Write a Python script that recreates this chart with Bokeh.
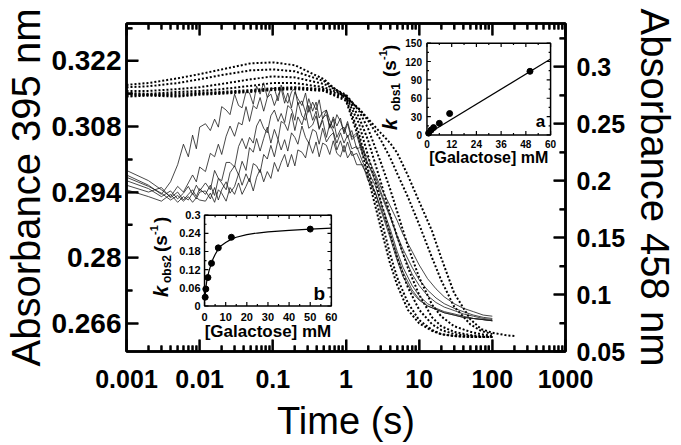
from math import pi
from bokeh.plotting import figure
from bokeh.models import (Range1d, LinearAxis, LogAxis, FixedTicker, LinearScale, Arrow,
                          ColumnDataSource)
from bokeh.core.properties import value
from bokeh.embed import file_html
from bokeh.resources import INLINE

# ---------------- data ----------------
TIME_TICKS = [0.001, 0.01, 0.1, 1.0, 10.0, 100.0, 1000.0]
TIME_LABELS = ["0.001", "0.01", "0.1", "1", "10", "100", "1000"]
LEFT_TICKS = [0.266, 0.28, 0.294, 0.308, 0.322]
LEFT_LABELS = ["0.266", "0.28", "0.294", "0.308", "0.322"]
RIGHT_TICKS = [0.05, 0.1, 0.15, 0.2, 0.25, 0.3]
RIGHT_LABELS = ["0.05", "0.1", "0.15", "0.2", "0.25", "0.3"]

# 395 nm traces (dotted, left axis)
t_dot = [0.001, 0.002, 0.005, 0.01, 0.02, 0.05, 0.1, 0.2, 0.5, 1, 1.5, 2, 3, 4, 5, 7,
         10, 15, 20, 30, 50, 70, 100, 150, 200]
a395_1 = [0.3169, 0.3173, 0.3183, 0.3192, 0.3202, 0.3215, 0.3217, 0.3211, 0.3181, 0.3139,
          0.3118, 0.3097, 0.3066, 0.3045, 0.3024, 0.2976, 0.2920, 0.2857, 0.2800, 0.2725,
          0.2669, 0.2648, 0.2640, 0.2635, 0.2633]
a395_2 = [0.3164, 0.3166, 0.3173, 0.3181, 0.3190, 0.3200, 0.3202, 0.3198, 0.3177, 0.3144,
          0.3118, 0.3093, 0.3051, 0.3014, 0.2980, 0.2930, 0.2871, 0.2800, 0.2752, 0.2696,
          0.2658, 0.2644, 0.2637]
a395_3 = [0.3156, 0.3156, 0.3160, 0.3164, 0.3171, 0.3181, 0.3187, 0.3185, 0.3171, 0.3148,
          0.3114, 0.3076, 0.3003, 0.2947, 0.2899, 0.2825, 0.2758, 0.2700, 0.2675, 0.2654,
          0.2642, 0.2637, 0.2633]
a395_4 = [0.3152, 0.3150, 0.3154, 0.3156, 0.3160, 0.3167, 0.3173, 0.3173, 0.3164, 0.3146,
          0.3101, 0.3051, 0.2961, 0.2892, 0.2846, 0.2779, 0.2721, 0.2673, 0.2654, 0.2642,
          0.2635, 0.2633, 0.2631]
a395_5 = [0.3150, 0.3148, 0.3150, 0.3152, 0.3154, 0.3158, 0.3162, 0.3164, 0.3160, 0.3144,
          0.3087, 0.3018, 0.2920, 0.2851, 0.2800, 0.2737, 0.2689, 0.2658, 0.2646, 0.2637,
          0.2633, 0.2631, 0.2631]
a395_6 = [0.3146, 0.3148, 0.3146, 0.3150, 0.3152, 0.3156, 0.3160, 0.3162, 0.3158, 0.3139,
          0.3066, 0.2989, 0.2884, 0.2808, 0.2758, 0.2704, 0.2667, 0.2646, 0.2637, 0.2633,
          0.2631, 0.2631, 0.2631]
a395_7 = [0.3144, 0.3146, 0.3144, 0.3148, 0.3150, 0.3154, 0.3158, 0.3160, 0.3156, 0.3135,
          0.3055, 0.2972, 0.2863, 0.2788, 0.2742, 0.2689, 0.2660, 0.2644, 0.2637, 0.2633,
          0.2631, 0.2631, 0.2631]

# 458 nm traces (solid, right axis)
t_sol = [0.001, 0.002, 0.003, 0.004, 0.005, 0.006, 0.007, 0.008, 0.009, 0.010,
         0.012, 0.014, 0.016, 0.018, 0.020, 0.023, 0.026, 0.030, 0.034, 0.038, 0.043, 0.048,
         0.054, 0.060, 0.067, 0.075, 0.084, 0.094,
         0.105, 0.118, 0.130, 0.145, 0.160, 0.180, 0.200, 0.220, 0.250, 0.280, 0.310, 0.350,
         0.390, 0.430, 0.480, 0.540, 0.600, 0.670, 0.750, 0.840, 0.940,
         1.05, 1.2, 1.4, 1.7, 2.0, 2.5, 3.0, 4.0, 5.0, 6.0, 8.0, 10, 13, 17, 22, 30, 40, 55, 75, 100]
a458_1 = [0.205, 0.196, 0.188, 0.199, 0.214, 0.232, 0.221, 0.240, 0.228, 0.247,
          0.250, 0.244, 0.254, 0.247, 0.265, 0.262, 0.258, 0.276, 0.266, 0.264, 0.278, 0.277,
          0.267, 0.283, 0.276, 0.286, 0.273, 0.281,
          0.281, 0.270, 0.284, 0.273, 0.268, 0.278, 0.281, 0.267, 0.270, 0.260, 0.272, 0.261,
          0.269, 0.255, 0.260, 0.262, 0.246, 0.256, 0.248, 0.255, 0.241,
          0.250, 0.236, 0.240, 0.222, 0.215, 0.200, 0.188, 0.168, 0.152, 0.140, 0.124, 0.113,
          0.104, 0.097, 0.092, 0.088, 0.085, 0.082, 0.080, 0.079]
a458_2 = [0.209, 0.200, 0.192, 0.186, 0.195, 0.190, 0.198, 0.205, 0.199, 0.212,
          0.208, 0.224, 0.221, 0.232, 0.223, 0.239, 0.248, 0.239, 0.251, 0.249, 0.265, 0.252,
          0.266, 0.263, 0.273, 0.261, 0.273, 0.276,
          0.266, 0.275, 0.281, 0.268, 0.277, 0.264, 0.278, 0.272, 0.266, 0.277, 0.260, 0.269,
          0.262, 0.271, 0.254, 0.262, 0.253, 0.246, 0.258, 0.252, 0.243,
          0.252, 0.238, 0.242, 0.226, 0.220, 0.206, 0.194, 0.178, 0.165, 0.153, 0.138, 0.126,
          0.114, 0.105, 0.098, 0.092, 0.088, 0.085, 0.082, 0.081]
a458_3 = [0.200, 0.193, 0.186, 0.191, 0.184, 0.189, 0.195, 0.188, 0.196, 0.191,
          0.198, 0.192, 0.209, 0.202, 0.200, 0.216, 0.216, 0.212, 0.230, 0.237, 0.228, 0.238,
          0.233, 0.248, 0.254, 0.246, 0.242, 0.257,
          0.262, 0.252, 0.259, 0.251, 0.266, 0.263, 0.253, 0.269, 0.257, 0.253, 0.266, 0.253,
          0.261, 0.246, 0.255, 0.258, 0.247, 0.254, 0.238, 0.245, 0.247,
          0.238, 0.244, 0.228, 0.230, 0.214, 0.204, 0.190, 0.170, 0.150, 0.136, 0.118, 0.108,
          0.099, 0.093, 0.089, 0.086, 0.083, 0.081, 0.079, 0.078]
a458_4 = [0.196, 0.190, 0.194, 0.185, 0.190, 0.183, 0.188, 0.192, 0.186, 0.193,
          0.188, 0.196, 0.187, 0.202, 0.198, 0.192, 0.207, 0.213, 0.205, 0.217, 0.209, 0.229,
          0.225, 0.237, 0.226, 0.237, 0.247, 0.233,
          0.245, 0.236, 0.252, 0.250, 0.244, 0.259, 0.244, 0.256, 0.249, 0.260, 0.246, 0.249,
          0.257, 0.245, 0.253, 0.238, 0.250, 0.243, 0.233, 0.242, 0.233,
          0.240, 0.228, 0.230, 0.216, 0.208, 0.196, 0.180, 0.158, 0.138, 0.124, 0.108, 0.099,
          0.092, 0.088, 0.085, 0.083, 0.081, 0.079, 0.078, 0.077]
a458_5 = [0.192, 0.186, 0.182, 0.188, 0.181, 0.186, 0.183, 0.189, 0.184, 0.190,
          0.191, 0.184, 0.194, 0.183, 0.192, 0.199, 0.189, 0.195, 0.206, 0.196, 0.206, 0.199,
          0.215, 0.213, 0.207, 0.223, 0.219, 0.231,
          0.221, 0.236, 0.227, 0.236, 0.226, 0.242, 0.238, 0.232, 0.248, 0.238, 0.233, 0.245,
          0.243, 0.232, 0.246, 0.234, 0.239, 0.242, 0.227, 0.235, 0.225,
          0.234, 0.222, 0.224, 0.212, 0.204, 0.190, 0.174, 0.150, 0.130, 0.116, 0.102, 0.095,
          0.090, 0.087, 0.084, 0.082, 0.080, 0.079, 0.078, 0.077]
a458_6 = [0.203, 0.195, 0.189, 0.183, 0.187, 0.182, 0.186, 0.181, 0.185, 0.183,
          0.182, 0.189, 0.181, 0.192, 0.189, 0.182, 0.194, 0.188, 0.198, 0.188, 0.195, 0.202,
          0.191, 0.203, 0.210, 0.199, 0.208, 0.202,
          0.216, 0.208, 0.216, 0.223, 0.212, 0.223, 0.213, 0.227, 0.225, 0.220, 0.234, 0.224,
          0.234, 0.221, 0.233, 0.231, 0.223, 0.235, 0.224, 0.221, 0.231,
          0.220, 0.226, 0.214, 0.214, 0.200, 0.190, 0.176, 0.154, 0.134, 0.120, 0.104, 0.096,
          0.090, 0.087, 0.084, 0.082, 0.080, 0.079, 0.078, 0.077]

# inset a: k_obs1 vs [Galactose]
gal_a = [0.8, 2.0, 3.2, 6.0, 11.0, 50.0]
kobs1 = [3, 8, 12, 19, 35, 104]
fit_a_x = [0, 60]
fit_a_y = [1, 124]
A_XTICKS = [0, 12, 24, 36, 48, 60]
A_XLABELS = ["0", "12", "24", "36", "48", "60"]
A_XMINOR = [6, 18, 30, 42, 54]
A_YTICKS = [0, 30, 60, 90, 120, 150]
A_YLABELS = ["0", "30", "60", "90", "120", "150"]
A_YMINOR = [15, 45, 75, 105, 135]

# inset b: k_obs2 vs [Galactose]
gal_b = [0.3, 0.6, 1.6, 3.3, 6.5, 12.7, 50.0]
kobs2 = [0.029, 0.056, 0.094, 0.141, 0.192, 0.227, 0.254]
fit_b_x = [0.2, 0.5, 1, 1.5, 2, 3, 4, 5, 6.5, 8, 10, 12.5, 15, 20, 25, 30, 40, 50, 60]
fit_b_y = [0.02, 0.052, 0.08, 0.098, 0.113, 0.136, 0.155, 0.170, 0.188, 0.200, 0.210,
           0.220, 0.227, 0.236, 0.241, 0.245, 0.250, 0.254, 0.257]
B_XTICKS = [0, 10, 20, 30, 40, 50, 60]
B_XLABELS = ["0", "10", "20", "30", "40", "50", "60"]
B_XMINOR = [5, 15, 25, 35, 45, 55]
B_YTICKS = [0, 0.06, 0.12, 0.18, 0.24, 0.3]
B_YLABELS = ["0", "0.06", "0.12", "0.18", "0.24", "0.3"]
B_YMINOR = [0.03, 0.09, 0.15, 0.21, 0.27]

# ---------------- layout ----------------
FONT = "Liberation Sans"
W, H = 680, 444
# reference geometry of main frame and inset boxes (page px)
FR = dict(l=126.0, r=576.0, t=23.3, b=357.0)
INSET_A = dict(l=434.0, r=560.7, t=43.3, b=136.7)
INSET_B = dict(l=206.0, r=336.0, t=218.3, b=310.7)
FW, FH = FR["r"] - FR["l"], FR["b"] - FR["t"]


def inset_range(d0, d1, p0, p1, lo, hi, flip=False):
    if flip:
        f0 = (hi - p0) / (hi - lo)
        f1 = (hi - p1) / (hi - lo)
    else:
        f0 = (p0 - lo) / (hi - lo)
        f1 = (p1 - lo) / (hi - lo)
    span = (d1 - d0) / (f1 - f0)
    start = d0 - f0 * span
    return Range1d(start=start, end=start + span)


p = figure(width=W, height=H, x_axis_type="log",
           x_range=Range1d(0.001, 1000), y_range=Range1d(0.26, 0.33),
           output_backend="svg", toolbar_location=None,
           min_border_left=int(FR["l"]), min_border_right=int(W - FR["r"]),
           min_border_top=int(round(FR["t"])), min_border_bottom=int(H - FR["b"]),
           x_axis_label="Time (s)", y_axis_label="Absorbance 395 nm",
           background_fill_color="white", border_fill_color="white")
p.outline_line_color = "black"
p.outline_line_width = 2.5
p.xgrid.visible = False
p.ygrid.visible = False

p.extra_y_ranges = {
    "r": Range1d(0.05, 0.338),
    "ay": inset_range(0, 150, INSET_A["b"], INSET_A["t"], FR["t"], FR["b"], flip=True),
    "by": inset_range(0, 0.3, INSET_B["b"], INSET_B["t"], FR["t"], FR["b"], flip=True),
}
p.extra_x_ranges = {
    "ax": inset_range(0, 60, INSET_A["l"], INSET_A["r"], FR["l"], FR["r"]),
    "bx": inset_range(0, 60, INSET_B["l"], INSET_B["r"], FR["l"], FR["r"]),
}
p.extra_x_scales = {"ax": LinearScale(), "bx": LinearScale()}
p.extra_y_scales = {"r": LinearScale(), "ay": LinearScale(), "by": LinearScale()}


def style_axis(ax, ticks, minor, labels, size, standoff):
    ax.ticker = FixedTicker(ticks=ticks, minor_ticks=minor)
    if labels is not None:
        ax.major_label_overrides = {t: s for t, s in zip(ticks, labels)}
    ax.major_label_text_font = FONT
    ax.major_label_text_font_style = "bold"
    ax.major_label_text_font_size = size
    ax.major_label_text_color = "black"
    ax.major_label_standoff = standoff
    ax.major_tick_in = 12
    ax.major_tick_out = 0
    ax.minor_tick_in = 6
    ax.minor_tick_out = 0
    ax.major_tick_line_color = "black"
    ax.minor_tick_line_color = "black"
    ax.major_tick_line_width = 2
    ax.minor_tick_line_width = 2
    ax.axis_line_width = 2.5
    ax.axis_label_text_font = FONT
    ax.axis_label_text_font_style = "normal"
    ax.axis_label_text_color = "black"
    ax.axis_label_standoff = 0


x_minor = [m * d for d in TIME_TICKS[:-1] for m in range(2, 10)]
left_minor = [round(t + 0.007, 4) for t in LEFT_TICKS]
right_minor = [round(t + 0.025, 4) for t in RIGHT_TICKS]

style_axis(p.xaxis[0], TIME_TICKS, x_minor, TIME_LABELS, "25px", 18)
p.xaxis[0].axis_label_text_font_size = "38px"
p.xaxis[0].axis_label_standoff = 9
style_axis(p.yaxis[0], LEFT_TICKS, left_minor, LEFT_LABELS, "28px", 5)
p.yaxis[0].axis_label_text_font_size = "40px"

top = LogAxis()
style_axis(top, TIME_TICKS, x_minor, None, "2px", 0)
top.major_label_text_color = None
p.add_layout(top, "above")

right = LinearAxis(y_range_name="r", axis_label="Absorbance 458 nm")
style_axis(right, RIGHT_TICKS, right_minor, RIGHT_LABELS, "25px", 11)
right.axis_label_text_font_size = "40px"
right.axis_label_standoff = 5
p.add_layout(right, "right")

# ---------------- traces ----------------
for ys in [a395_1, a395_2, a395_3, a395_4, a395_5, a395_6, a395_7]:
    p.line(t_dot[:len(ys)], ys, line_color="black", line_width=2, line_dash="2 2")

for ys in [a458_1, a458_2, a458_3, a458_4, a458_5, a458_6]:
    p.line(t_sol, ys, y_range_name="r", line_color="#1a1a1a", line_width=0.8)


def tick_arrows(segs, width, **ranges):
    """Headless Arrow annotations used as short tick strokes."""
    src = ColumnDataSource(dict(x0=[s[0] for s in segs], y0=[s[1] for s in segs],
                                x1=[s[2] for s in segs], y1=[s[3] for s in segs]))
    p.add_layout(Arrow(end=None, x_start="x0", y_start="y0", x_end="x1", y_end="y1",
                       source=src, line_color="black", line_width=width, **ranges))


# inward frame ticks on all four sides
xs0, xs1 = p.x_range.start, p.x_range.end
ys0, ys1 = p.y_range.start, p.y_range.end
decades = 6.0
main_segs, right_segs = [], []
for ln, xt, lt, rt in [(12, TIME_TICKS, LEFT_TICKS, RIGHT_TICKS),
                       (6, x_minor, left_minor, right_minor)]:
    dy = ln / FH * (ys1 - ys0)
    fx = 10 ** (ln / FW * decades)
    main_segs += [(t, ys0, t, ys0 + dy) for t in xt]
    main_segs += [(t, ys1, t, ys1 - dy) for t in xt]
    main_segs += [(xs0, t, xs0 * fx, t) for t in lt]
    right_segs += [(xs1, t, xs1 / fx, t) for t in rt]
tick_arrows(main_segs, 2)
tick_arrows(right_segs, 2, y_range_name="r")


# ---------------- insets ----------------
def draw_inset(xr, yr, box, x0, x1, y0, y1, xt, xl, xm, yt, yl, ym, tick_size,
               xl_off, yl_off, title_size, title_off):
    kw = dict(x_range_name=xr, y_range_name=yr)
    bw, bh = box["r"] - box["l"], box["b"] - box["t"]
    p.quad(left=[x0], right=[x1], bottom=[y0], top=[y1], fill_color="white",
           line_color="black", line_width=1.5, **kw)
    segs = []
    for ticks_x, ticks_y, ln in [(xt, yt, 4), (xm, ym, 2)]:
        dy = ln / bh * (y1 - y0)
        dx = ln / bw * (x1 - x0)
        segs += [(t, y0, t, y0 + dy) for t in ticks_x]
        segs += [(t, y1, t, y1 - dy) for t in ticks_x]
        segs += [(x0, t, x0 + dx, t) for t in ticks_y]
        segs += [(x1, t, x1 - dx, t) for t in ticks_y]
    tick_arrows(segs, 1.2, **kw)
    p.text(x=xt, y=[y0] * len(xt), text=xl, text_font=value(FONT), text_font_style="bold",
           text_font_size=tick_size, text_align="center", text_baseline="middle",
           y_offset=xl_off, text_color="black", **kw)
    p.text(x=[x0] * len(yt), y=yt, text=yl, text_font=value(FONT), text_font_style="bold",
           text_font_size=tick_size, text_align="right", text_baseline="middle",
           x_offset=yl_off, text_color="black", **kw)
    p.text(x=[(x0 + x1) / 2], y=[y0], text=["[Galactose] mM"], text_font=value(FONT),
           text_font_style="bold", text_font_size=title_size, text_align="center",
           text_baseline="middle", y_offset=title_off, text_color="black", **kw)


draw_inset("ax", "ay", INSET_A, 0, 60, 0, 150, A_XTICKS, A_XLABELS, A_XMINOR, A_YTICKS,
           A_YLABELS, A_YMINOR, "10px", 9, -5, "16px", 23)
p.line(fit_a_x, fit_a_y, x_range_name="ax", y_range_name="ay", line_color="black", line_width=1.2)
p.scatter(gal_a, kobs1, x_range_name="ax", y_range_name="ay", size=6, marker="circle",
          fill_color="black", line_color="black")
p.text(x=[60], y=[0], text=["a"], x_range_name="ax", y_range_name="ay", text_font=value(FONT),
       text_font_style="bold", text_font_size="17px", text_align="center",
       text_baseline="middle", x_offset=-10, y_offset=-13)

draw_inset("bx", "by", INSET_B, 0, 60, 0, 0.3, B_XTICKS, B_XLABELS, B_XMINOR, B_YTICKS,
           B_YLABELS, B_YMINOR, "11px", 11, -4, "17px", 26)
p.line(fit_b_x, fit_b_y, x_range_name="bx", y_range_name="by", line_color="black", line_width=1.2)
p.scatter(gal_b, kobs2, x_range_name="bx", y_range_name="by", size=6, marker="circle",
          fill_color="black", line_color="black")
p.text(x=[60], y=[0], text=["b"], x_range_name="bx", y_range_name="by", text_font=value(FONT),
       text_font_style="bold", text_font_size="19px", text_align="center",
       text_baseline="middle", x_offset=-12, y_offset=-12)

# rotated k_obs labels built from pieces: (text, size, style, x_offset, y_offset)
K_A = [("k", "20px", "bold italic", -37, -5), ("obs1", "12px", "bold", -31, -24),
       ("(s", "19px", "bold", -37, -58), ("-1", "11px", "bold", -44, -75),
       (")", "19px", "bold", -37, -84)]
K_B = [("k", "20px", "bold italic", -44, -9), ("obs2", "12px", "bold", -38, -23),
       ("(s", "19px", "bold", -44, -54), ("-1", "11px", "bold", -51, -71),
       (")", "19px", "bold", -44, -83)]
for pieces, xr, yr in [(K_A, "ax", "ay"), (K_B, "bx", "by")]:
    for txt, size, style, dx, dy in pieces:
        p.text(x=[0], y=[0], text=[txt], x_range_name=xr, y_range_name=yr,
               text_font=value(FONT), text_font_style=style, text_font_size=size,
               angle=pi / 2, text_align="left", text_baseline="middle",
               x_offset=dx, y_offset=dy, text_color="black")

open("out.html", "w").write(file_html(p, INLINE))
